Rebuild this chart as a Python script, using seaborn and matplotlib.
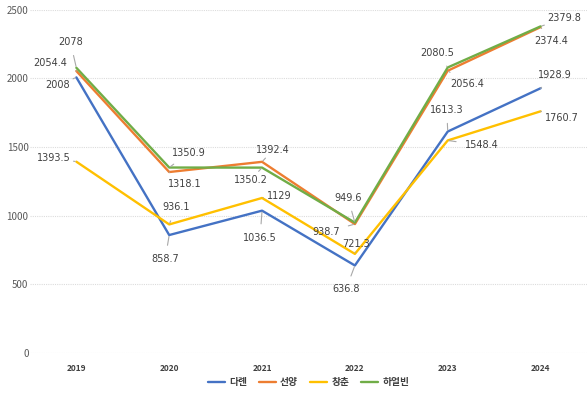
import matplotlib
matplotlib.use("Agg")
import matplotlib.pyplot as plt
import seaborn as sns
import pandas as pd

years = ["2019", "2020", "2021", "2022", "2023", "2024"]
cities = ["다롄", "선양", "창춘", "하얼빈"]
dalian = [2008, 858.7, 1036.5, 636.8, 1613.3, 1928.9]
shenyang = [2054.4, 1318.1, 1392.4, 938.7, 2056.4, 2374.4]
changchun = [1393.5, 936.1, 1129, 721.3, 1548.4, 1760.7]
harbin = [2078, 1350.9, 1350.2, 949.6, 2080.5, 2379.8]
series = [dalian, shenyang, changchun, harbin]
colors = ["#4472C4", "#ED7D31", "#FFC000", "#70AD47"]

# label offsets in pixels (dx, dy with y up)
offsets = {
    "다롄": [(-19, -8), (-4, -24), (-2, -27), (-9, -24), (-1, 22), (14, 13)],
    "선양": [(-26, 8), (16, -12), (11, 12), (-29, -8), (19, -13), (11, -14)],
    "창춘": [(-23, 4), (7, 17), (17, 2), (1, 10), (34, -5), (21, -7)],
    "하얼빈": [(-6, 26), (20, 15), (-11, -12), (-7, 25), (-11, 14), (24, 8)],
}

rows = []
for c, vals in zip(cities, series):
    for i, v in enumerate(vals):
        rows.append({"x": i, "year": years[i], "city": c, "value": v})
df = pd.DataFrame(rows)

sns.set_theme(style="white")
plt.rcParams["font.family"] = ["Noto Sans CJK KR", "DejaVu Sans"]

fig = plt.figure(figsize=(5.87, 3.96), dpi=100)
ax = fig.add_axes([0.051, 0.109, 0.949, 0.866])

sns.lineplot(data=df, x="x", y="value", hue="city", hue_order=cities,
             palette=colors, linewidth=1.7, ax=ax, sort=False)

ax.set_xlim(-0.5, 5.5)
ax.set_ylim(0, 2500)
ax.set_yticks([0, 500, 1000, 1500, 2000, 2500])
ax.set_xticks(range(len(years)))
ax.set_xticklabels(years, fontsize=6, fontweight="bold", color="#404040")
ax.tick_params(axis="y", labelsize=7, labelcolor="#595959", length=0, pad=1)
ax.tick_params(axis="x", length=0, pad=8)
ax.yaxis.grid(True, color="#dcdcdc", linestyle=(0, (1, 1)), linewidth=0.8)
ax.set_axisbelow(True)
for s in ax.spines.values():
    s.set_visible(False)
ax.set_xlabel("")
ax.set_ylabel("")

for c, vals in zip(cities, series):
    for i, v in enumerate(vals):
        dx, dy = offsets[c][i]
        ax.annotate(f"{v:g}", xy=(i, v), xytext=(dx, dy), textcoords="offset pixels",
                    ha="center", va="center", fontsize=7, color="#404040",
                    family=["DejaVu Sans"],
                    arrowprops=dict(arrowstyle="-", color="#a8a8a8", lw=0.8,
                                    shrinkA=4, shrinkB=1))

leg = ax.legend(loc="upper center", bbox_to_anchor=(0.5, -0.045), ncol=4,
                frameon=False, fontsize=7, handlelength=1.8, columnspacing=1.2,
                handletextpad=0.4)
for t in leg.get_texts():
    t.set_color("#404040")
    t.set_fontweight("bold")

fig.savefig("out.png", dpi=100)
